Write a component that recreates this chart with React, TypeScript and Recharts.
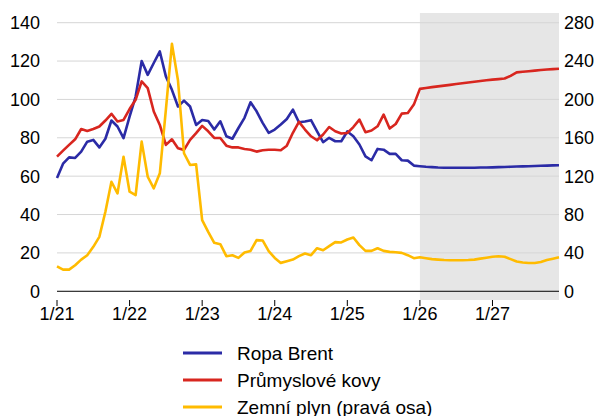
import React from 'react';
import { LineChart, Line, XAxis, YAxis, ReferenceArea, ReferenceLine, Legend } from 'recharts';

const FONT = '"Liberation Sans", Arial, Helvetica, sans-serif';

// month index 0 = 1/21 ... 83 = 12/27
const yearTicks = [0, 12, 24, 36, 48, 60, 72];
const yearLabels = ['1/21', '1/22', '1/23', '1/24', '1/25', '1/26', '1/27'];
const leftTicks = [0, 20, 40, 60, 80, 100, 120, 140];
const rightTicks = [0, 40, 80, 120, 160, 200, 240, 280];
const gridTicks = [20, 40, 60, 80, 100, 120, 140];
const forecastStart = 60;
const forecastEnd = 83;

const brent = [
  59, 66.5, 69.8, 69.5, 72.8, 78, 78.9, 75, 79.5, 89, 85.9, 79.8,
  91, 101.5, 120, 112.8, 119, 125, 112, 105, 96.3, 99.4, 96.3, 86.7,
  89.3, 88.8, 84.3, 88.6, 80.8, 79.5, 85.1, 90.4, 98.5, 93.8, 87.8, 82.6,
  84.3, 86.9, 89.8, 94.7, 88.1, 88.5, 89.2, 83.4, 77.7, 80, 78.2, 78.2,
  83.3, 80.8, 76.5, 70.3, 68.3, 74.2, 73.8, 71.6, 71.6, 68.3, 68.1, 65.5,
  65.2, 64.9, 64.7, 64.5, 64.4, 64.4, 64.4, 64.4, 64.4, 64.4, 64.5, 64.5,
  64.6, 64.7, 64.8, 64.9, 65, 65.1, 65.2, 65.3, 65.4, 65.5, 65.6, 65.7,
];

const metals = [
  70.2, 73.3, 76.3, 79.2, 84.6, 83.6, 84.6, 85.9, 89, 92.5, 88.5, 89.3,
  95, 99.8, 109.4, 105.9, 93.7, 86.7, 76.3, 79.2, 74.5, 73.7, 78.9, 82.4,
  86.2, 83.4, 79.9, 79.9, 75.9, 75, 75, 74.2, 73.8, 72.8, 73.5, 73.8,
  73.8, 73.5, 75.9, 82.6, 88.3, 84.3, 80.8, 78.7, 81.7, 85.6, 83.4, 82.2,
  82.5, 85.6, 89.5, 82.9, 83.8, 86, 92.1, 84.8, 87.2, 92.6, 92.9, 97.3,
  105.5, 106, 106.4, 106.8, 107.2, 107.6, 108, 108.4, 108.8, 109.2, 109.6, 110,
  110.3, 110.6, 110.9, 112.3, 114.1, 114.4, 114.7, 115, 115.3, 115.6, 115.8, 116,
];

const gas = [
  26, 22.6, 22.6, 27.2, 33, 37.6, 46.3, 56.7, 82.9, 114.2, 102, 140.3,
  103.8, 100.3, 156, 119.4, 107.3, 123, 189, 258, 220, 143.9, 131.7, 132.3,
  74.2, 62, 50.5, 49.1, 36.6, 37.6, 34.8, 40.4, 42.1, 53.3, 53, 41.8,
  34.8, 29.6, 31.3, 33.1, 36.6, 39.4, 37.6, 44.9, 42.8, 47, 51.2, 50.9,
  54, 56.1, 48.1, 42.1, 42.1, 44.9, 42.1, 41.1, 40.7, 40, 37.6, 34.5,
  35.5, 34.5, 33.5, 33, 32.6, 32.4, 32.3, 32.4, 32.6, 33, 34, 35,
  36, 36.5, 36, 33.5, 31, 30, 29.5, 29.5, 30.5, 32.5, 34, 35.5,
];

const seriesNames = ['Ropa Brent', 'Průmyslové kovy', 'Zemní plyn (pravá osa)'];
const seriesColors = ['#2b2ba6', '#d8261f', '#ffbb00'];

const data = brent.map((b, i) => ({ i, brent: b, metals: metals[i], gas: gas[i] }));

const fmtX = (v: number) => {
  const k = yearTicks.indexOf(v);
  return k >= 0 ? yearLabels[k] : '';
};

const LegendContent = () => (
  <svg width={595} height={80} style={{ display: 'block' }}>
    {seriesNames.map((name, k) => (
      <g key={name}>
        <line x1={183} x2={222} y1={15 + 27 * k} y2={15 + 27 * k} stroke={seriesColors[k]} strokeWidth={3} />
        <text x={237} y={15 + 27 * k} dy="0.36em" fontSize={19} fontFamily={FONT} fill="#000">
          {name}
        </text>
      </g>
    ))}
  </svg>
);

export default function App() {
  const tickStyle = { fontSize: 18, fill: '#000', fontFamily: FONT };
  return (
    <div style={{ position: 'absolute', left: 0, top: 0, width: 595, height: 416, background: '#fff' }}>
      <LineChart width={595} height={416} data={data} margin={{ top: 13, right: 0, bottom: 86, left: 0 }}>
        <XAxis
          dataKey="i"
          type="number"
          domain={[0, 83]}
          ticks={yearTicks}
          interval={0}
          tickFormatter={fmtX}
          axisLine={false}
          tickLine={{ stroke: '#000', strokeWidth: 1 }}
          tickSize={6}
          tickMargin={1}
          height={30}
          tick={tickStyle}
        />
        <YAxis
          yAxisId="L"
          domain={[-4.55, 145.05]}
          ticks={leftTicks}
          interval={0}
          axisLine={false}
          tickLine={false}
          tickSize={0}
          tickMargin={17}
          width={57}
          tick={tickStyle}
        />
        <YAxis
          yAxisId="R"
          orientation="right"
          domain={[-9.1, 290.1]}
          ticks={rightTicks}
          interval={0}
          axisLine={false}
          tickLine={false}
          tickSize={0}
          tickMargin={5}
          width={36}
          tick={tickStyle}
        />
        <ReferenceArea yAxisId="L" x1={forecastStart} x2={forecastEnd} fill="#e6e6e6" fillOpacity={1} stroke="none" />
        {gridTicks.map((t) => (
          <ReferenceLine key={t} yAxisId="L" y={t} stroke="#d6d6d6" strokeWidth={1} />
        ))}
        <ReferenceLine yAxisId="L" y={0} stroke="#000" strokeWidth={1} />
        <Line yAxisId="L" dataKey="brent" stroke={seriesColors[0]} strokeWidth={2.6} dot={false} isAnimationActive={false} strokeLinejoin="round" />
        <Line yAxisId="L" dataKey="metals" stroke={seriesColors[1]} strokeWidth={2.6} dot={false} isAnimationActive={false} strokeLinejoin="round" />
        <Line yAxisId="R" dataKey="gas" stroke={seriesColors[2]} strokeWidth={2.6} dot={false} isAnimationActive={false} strokeLinejoin="round" />
        <Legend
          layout="vertical"
          align="center"
          verticalAlign="middle"
          wrapperStyle={{ position: 'absolute', top: 338, left: 0, width: 595, height: 80 }}
          content={<LegendContent />}
        />
      </LineChart>
    </div>
  );
}
